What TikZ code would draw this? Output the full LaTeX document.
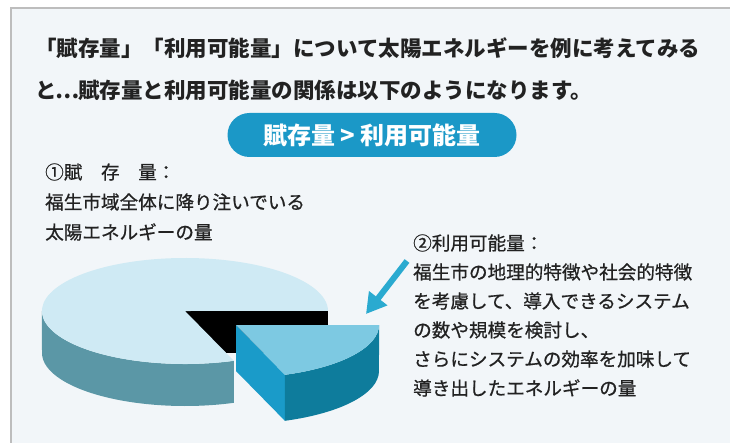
\documentclass[tikz,border=0pt]{standalone}
\usepackage{fontspec}
\usetikzlibrary{arrows.meta}
\newfontfamily\jp{Noto Sans CJK JP}
\newfontfamily\jpm[FakeBold=0.7]{Noto Sans CJK JP}
\definecolor{panel}{HTML}{F2F6F9}
\definecolor{framegray}{HTML}{BDBDBD}
\definecolor{txt}{HTML}{222222}
\definecolor{pillc}{HTML}{1B98C7}
\definecolor{maintop}{HTML}{CFEAF4}
\definecolor{mainside}{HTML}{5B97A6}
\definecolor{piecetop}{HTML}{7DC9E2}
\definecolor{piececut}{HTML}{1A9BC9}
\definecolor{piecerim}{HTML}{0E7C9C}
\definecolor{arrowc}{HTML}{2AAAD0}
\tikzset{
  titletext/.style={anchor=west,inner sep=0pt,text=txt,font=\jp\bfseries\fontsize{21.5}{26}\selectfont},
  bodytext/.style={anchor=west,inner sep=0pt,text=txt,font=\jpm\fontsize{18.6}{22}\selectfont},
  pill/.style={fill=pillc,rounded corners=22pt,minimum width=289pt,minimum height=44pt,inner sep=0pt,text=white,font=\jp\bfseries\fontsize{24}{28}\selectfont},
  pointer/.style={draw=arrowc,line width=6pt,-{Triangle[length=20pt,width=22pt]}}
}
\begin{document}
\begin{tikzpicture}[x=1pt,y=-1pt]
\useasboundingbox (0,0) rectangle (730,443);
\fill[white] (0,0) rectangle (730,443);
\fill[panel] (11,8) rectangle (730,443);
\draw[framegray,line width=1.5pt] (11,443) -- (11,8) -- (730,8);

% title
\node[titletext] (t1) at (35,48) {「賦存量」「利用可能量」について太陽エネルギーを例に考えてみる};
\node[titletext] (t2) at (35,90) {と\makebox[1em]{…}賦存量と利用可能量の関係は以下のようになります。};

% pill
\node[pill] (pill) at (372,135) {賦存量 > 利用可能量};

% left text
\node[bodytext] (l1) at (45,172) {①賦　存　量：};
\node[bodytext] (l2) at (45,202) {福生市域全体に降り注いでいる};
\node[bodytext] (l3) at (45,232) {太陽エネルギーの量};

% right text
\node[bodytext] (r1) at (413,243) {②利用可能量：};
\node[bodytext] (r2) at (413,272) {福生市の地理的特徴や社会的特徴};
\node[bodytext] (r3) at (413,301) {を考慮して、導入できるシステム};
\node[bodytext] (r4) at (413,330) {の数や規模を検討し、};
\node[bodytext] (r5) at (413,359) {さらにシステムの効率を加味して};
\node[bodytext] (r6) at (413,388) {導き出したエネルギーの量};

% pie: hole face
\fill[black] (185,311) rectangle (328,353);
% main side
\fill[mainside] (233.9,360.8) arc[start angle=70,end angle=180,x radius=143,y radius=53]
  -- (42,353) arc[start angle=180,end angle=70,x radius=143,y radius=53] -- cycle;
% main top
\fill[maintop] (185,311) -- (233.9,360.8) arc[start angle=70,end angle=360,x radius=143,y radius=53] -- cycle;

% piece
\fill[piececut] (236,325) -- (284.9,374.8) -- (284.9,420.8) -- (236,371) -- cycle;
\fill[piecerim] (379,325) arc[start angle=0,end angle=70,x radius=143,y radius=53]
  -- (284.9,420.8) arc[start angle=70,end angle=0,x radius=143,y radius=53] -- cycle;
\fill[piecetop] (236,325) -- (379,325) arc[start angle=0,end angle=70,x radius=143,y radius=53] -- cycle;

% arrow
\coordinate (a1) at (407,261);
\coordinate (a2) at (366,314);
\draw[pointer] (a1) -- (a2);
\end{tikzpicture}
\end{document}
